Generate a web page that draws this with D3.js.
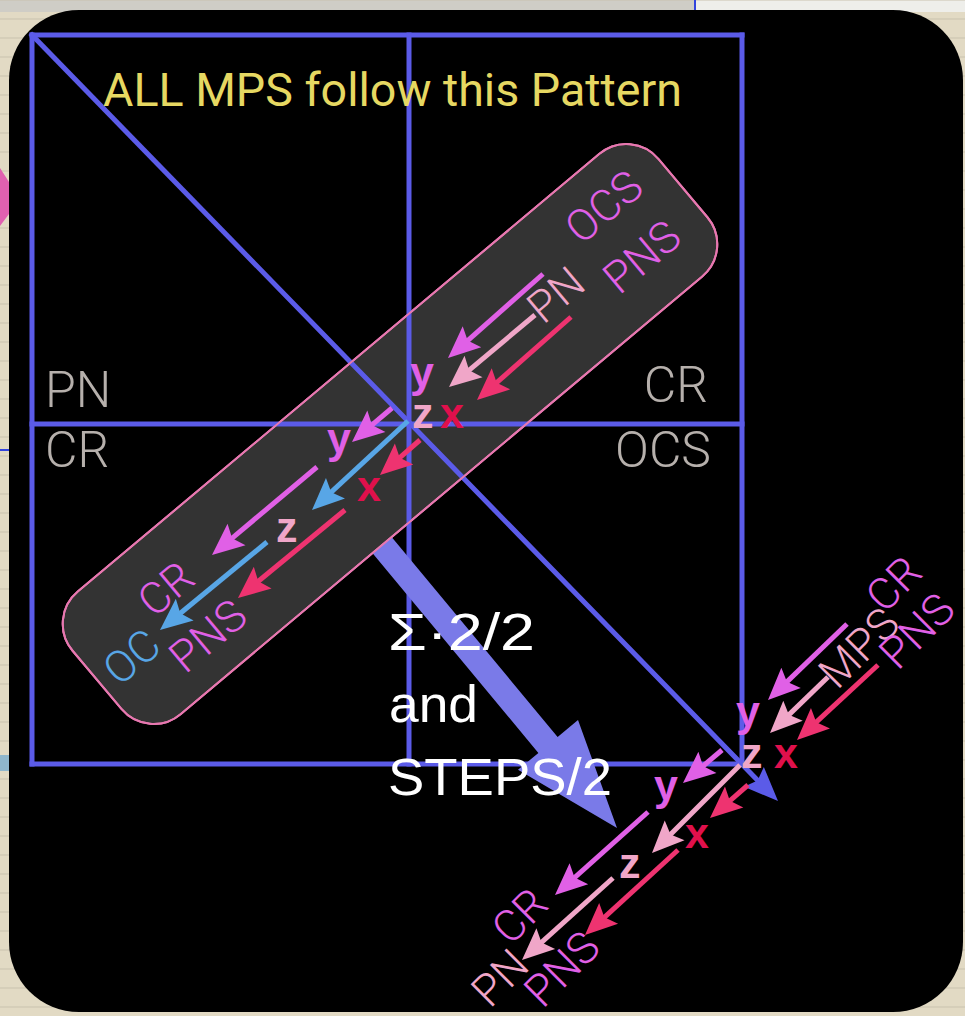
<!DOCTYPE html>
<html><head><meta charset="utf-8">
<script src="https://cdn.jsdelivr.net/npm/d3@7"></script>
<style>html,body{margin:0;padding:0;background:#e2dac4;overflow:hidden}</style>
</head><body><svg id="c" width="965" height="1016"></svg>
<script>
// ---------- data (reference-frame coordinates) ----------
const gridLines = [
  {x1:32, y1:35, x2:742, y2:35},
  {x1:32, y1:764, x2:742, y2:764},
  {x1:32, y1:35, x2:32, y2:764},
  {x1:742, y1:35, x2:742, y2:764},
  {x1:409, y1:35, x2:409, y2:764},
  {x1:32, y1:424, x2:742, y2:424},
  {x1:32, y1:35, x2:768, y2:791}
];
const diagHead = {x1:741, y1:764, x2:778, y2:801};
const titleText = ["ALL MPS follow this Pattern"];
const quadLabels = [
  {t:"PN", x:45, y:407, anchor:"start"},
  {t:"CR", x:45, y:467, anchor:"start"},
  {t:"CR", x:708, y:402, anchor:"end"},
  {t:"OCS", x:711, y:467, anchor:"end"}
];
const pill = {cx:390, cy:434, w:765, h:160, angle:-40, r:42};
const bigArrow = {x1:382, y1:545, x2:617, y2:828};
const noteLines = [
  {t:"Σ·2/2", x:388, y:650, len:147},
  {t:"and", x:389, y:722, len:89},
  {t:"STEPS/2", x:388, y:795, len:224}
];
const arrows = [
  // upper group in pill
  {x1:543, y1:274, x2:448, y2:358, c:"mag"},
  {x1:535, y1:315, x2:449, y2:387, c:"pink"},
  {x1:571, y1:317, x2:477, y2:400, c:"red"},
  // lower group in pill
  {x1:392, y1:408, x2:352, y2:442, c:"mag"},
  {x1:408, y1:421, x2:312, y2:510, c:"blue"},
  {x1:420, y1:440, x2:380, y2:475, c:"red"},
  {x1:317, y1:467, x2:212, y2:555, c:"mag"},
  {x1:267, y1:542, x2:160, y2:630, c:"blue"},
  {x1:345, y1:510, x2:238, y2:598, c:"red"},
  // corner group, upper
  {x1:847, y1:624, x2:768, y2:700, c:"mag"},
  {x1:828, y1:677, x2:770, y2:733, c:"pink"},
  {x1:878, y1:665, x2:797, y2:740, c:"red"},
  // corner group, lower
  {x1:722, y1:750, x2:683, y2:783, c:"mag"},
  {x1:740, y1:765, x2:652, y2:853, c:"pink"},
  {x1:748, y1:785, x2:710, y2:818, c:"red"},
  {x1:648, y1:812, x2:555, y2:895, c:"mag"},
  {x1:613, y1:878, x2:522, y2:960, c:"pink"},
  {x1:678, y1:850, x2:585, y2:935, c:"red"}
];
const axisLetters = [
  {t:"y", x:410, y:387, c:"ymag"},
  {t:"z", x:412, y:428, c:"zpink"},
  {t:"x", x:440, y:428, c:"xred"},
  {t:"y", x:327, y:453, c:"ymag"},
  {t:"x", x:357, y:501, c:"xred"},
  {t:"z", x:276, y:542, c:"zpink"},
  {t:"y", x:736, y:726, c:"ymag"},
  {t:"z", x:741, y:768, c:"zpink"},
  {t:"x", x:774, y:768, c:"xred"},
  {t:"y", x:654, y:800, c:"ymag"},
  {t:"x", x:685, y:848, c:"xred"},
  {t:"z", x:619, y:878, c:"zpink"}
];
const rotLabels = [
  {t:"OCS", x:604, y:207, c:"mag", a:-40},
  {t:"PNS", x:642, y:257, c:"mag", a:-40},
  {t:"PN", x:556, y:295, c:"pink", a:-40},
  {t:"CR", x:166, y:589, c:"mag", a:-40},
  {t:"OC", x:132, y:657, c:"blue", a:-40},
  {t:"PNS", x:208, y:636, c:"mag", a:-40},
  {t:"MPS", x:859, y:648, c:"pink", a:-45},
  {t:"CR", x:894, y:584, c:"mag", a:-45},
  {t:"PNS", x:917, y:631, c:"mag", a:-45},
  {t:"CR", x:520, y:916, c:"mag", a:-45},
  {t:"PN", x:500, y:978, c:"pink", a:-45},
  {t:"PNS", x:562, y:969, c:"mag", a:-45}
];
const colors = {
  grid:"#5b5be8", big:"#7a7ae8", mag:"#e060e6", pink:"#f0a6c8", red:"#ee3370",
  blue:"#58a6e6", ymag:"#e060e6", zpink:"#f0a6c8", xred:"#e0104c",
  title:"#e6d862", quad:"#b6b0ac", note:"#ffffff", pill:"#333333", pillStroke:"#e878b0"
};

// ---------- scales ----------
const W = 965, H = 1016;
const x = d3.scaleLinear().domain([0, 965]).range([0, W]);
const y = d3.scaleLinear().domain([0, 1016]).range([0, H]);

const svg = d3.select("#c");

// background sheet
svg.append("rect").attr("x",0).attr("y",0).attr("width",W).attr("height",H).attr("fill","#e2dac4");
svg.append("rect").attr("x",0).attr("y",0).attr("width",x(695)).attr("height",y(12)).attr("fill","#cfcdc6");
svg.append("rect").attr("x",x(695)).attr("y",0).attr("width",W-x(695)).attr("height",y(12)).attr("fill","#eeeeea");
const rowG = svg.append("g");
d3.range(0, 1016, 19).forEach(r => {
  rowG.append("line").attr("x1",0).attr("x2",W).attr("y1",y(r)).attr("y2",y(r))
    .attr("stroke","#c9c2ae").attr("stroke-width",1);
});
svg.append("line").attr("x1",x(695)).attr("x2",x(695)).attr("y1",0).attr("y2",y(12)).attr("stroke","#3344dd").attr("stroke-width",2);
svg.append("line").attr("x1",0).attr("x2",x(12)).attr("y1",y(450)).attr("y2",y(450)).attr("stroke","#3344dd").attr("stroke-width",2);
svg.append("path").attr("d",`M${x(0)},${y(168)} L${x(9)},${y(182)} L${x(9)},${y(214)} L${x(0)},${y(226)} Z`).attr("fill","#e060b0");
svg.append("rect").attr("x",0).attr("y",y(755)).attr("width",x(9)).attr("height",y(16)).attr("fill","#8fb6cc");

// black panel
svg.append("rect").attr("x",x(9)).attr("y",y(10)).attr("width",x(963)-x(9)).attr("height",y(1012)-y(10))
  .attr("rx",70).attr("ry",70).attr("fill","#000");

// pill
svg.append("rect")
  .attr("x", x(pill.cx) - pill.w/2).attr("y", y(pill.cy) - pill.h/2)
  .attr("width", pill.w).attr("height", pill.h).attr("rx", pill.r).attr("ry", pill.r)
  .attr("fill", colors.pill).attr("stroke", colors.pillStroke).attr("stroke-width", 2)
  .attr("transform", `rotate(${pill.angle},${x(pill.cx)},${y(pill.cy)})`);

// grid lines
svg.append("g").selectAll("line").data(gridLines).join("line")
  .attr("x1",d=>x(d.x1)).attr("y1",d=>y(d.y1)).attr("x2",d=>x(d.x2)).attr("y2",d=>y(d.y2))
  .attr("stroke",colors.grid).attr("stroke-width",5).attr("stroke-linecap","square");

function headPath(d, L, Wd, notch) {
  const X1=x(d.x1), Y1=y(d.y1), X2=x(d.x2), Y2=y(d.y2);
  const dx=X2-X1, dy=Y2-Y1, len=Math.hypot(dx,dy), ux=dx/len, uy=dy/len, nx=-uy, ny=ux;
  const bx=X2-ux*L, by=Y2-uy*L, mx=X2-ux*L*notch, my=Y2-uy*L*notch;
  return `M${X2},${Y2} L${bx+nx*Wd/2},${by+ny*Wd/2} L${mx},${my} L${bx-nx*Wd/2},${by-ny*Wd/2} Z`;
}
// diagonal arrow head
svg.append("path").attr("d", headPath(diagHead, 34, 28, 0.85)).attr("fill", colors.grid);

// big arrow (starts at the pill edge)
(function(){
  const d=bigArrow, X1=x(d.x1), Y1=y(d.y1), X2=x(d.x2), Y2=y(d.y2);
  const dx=X2-X1, dy=Y2-Y1, len=Math.hypot(dx,dy), ux=dx/len, uy=dy/len, nx=-uy, ny=ux;
  const sw=12.5, hw=39, hl=108;
  const bx=X2-ux*hl, by=Y2-uy*hl;
  const p=[[X1+nx*sw,Y1+ny*sw],[bx+nx*sw,by+ny*sw],[bx+nx*hw,by+ny*hw],[X2,Y2],[bx-nx*hw,by-ny*hw],[bx-nx*sw,by-ny*sw],[X1-nx*sw,Y1-ny*sw]];
  svg.append("path").attr("d","M"+p.map(q=>q.join(",")).join("L")+"Z").attr("fill",colors.big);
})();
svg.append("rect")
  .attr("x", x(pill.cx) - pill.w/2).attr("y", y(pill.cy) - pill.h/2)
  .attr("width", pill.w).attr("height", pill.h).attr("rx", pill.r).attr("ry", pill.r)
  .attr("fill", "none").attr("stroke", colors.pillStroke).attr("stroke-width", 2)
  .attr("transform", `rotate(${pill.angle},${x(pill.cx)},${y(pill.cy)})`);

// title
svg.append("text").attr("x",x(103)).attr("y",y(106))
  .attr("font-family","Roboto, 'Liberation Sans', sans-serif").attr("font-weight",400)
  .attr("font-size",46).attr("textLength",579).attr("lengthAdjust","spacingAndGlyphs")
  .attr("fill",colors.title).text(titleText[0]);

// quadrant labels
svg.append("g").selectAll("text").data(quadLabels).join("text")
  .attr("x",d=>x(d.x)).attr("y",d=>y(d.y)).attr("text-anchor",d=>d.anchor)
  .attr("font-family","Roboto, 'Liberation Sans', sans-serif").attr("font-weight",300)
  .attr("font-size",50).attr("fill",colors.quad).text(d=>d.t);

// small arrows
const ag = svg.append("g");
arrows.forEach(d=>{
  const X1=x(d.x1), Y1=y(d.y1), X2=x(d.x2), Y2=y(d.y2);
  const len=Math.hypot(X2-X1,Y2-Y1), ux=(X2-X1)/len, uy=(Y2-Y1)/len;
  ag.append("line").attr("x1",X1).attr("y1",Y1).attr("x2",X2-ux*24).attr("y2",Y2-uy*24)
    .attr("stroke",colors[d.c]).attr("stroke-width",5);
  ag.append("path").attr("d",headPath(d,32,28,0.82)).attr("fill",colors[d.c]);
});

// note text
svg.append("g").selectAll("text").data(noteLines).join("text")
  .attr("x",d=>x(d.x)).attr("y",d=>y(d.y))
  .attr("font-family","'Liberation Sans', Arial, sans-serif").attr("font-size",52)
  .attr("textLength",d=>d.len).attr("lengthAdjust","spacingAndGlyphs")
  .attr("fill",colors.note).text(d=>d.t);

// axis letters
svg.append("g").selectAll("text").data(axisLetters).join("text")
  .attr("x",d=>x(d.x)).attr("y",d=>y(d.y))
  .attr("font-family","'Liberation Sans', Arial, sans-serif").attr("font-weight",700)
  .attr("font-size",43).attr("fill",d=>colors[d.c]).text(d=>d.t);

// rotated labels
svg.append("g").selectAll("text").data(rotLabels).join("text")
  .attr("transform",d=>`translate(${x(d.x)},${y(d.y)}) rotate(${d.a})`)
  .attr("text-anchor","middle").attr("dominant-baseline","central")
  .attr("font-family","Roboto, 'Liberation Sans', sans-serif").attr("font-weight",300)
  .attr("font-size",44).attr("fill",d=>colors[d.c]).text(d=>d.t);
</script>
</body></html>
